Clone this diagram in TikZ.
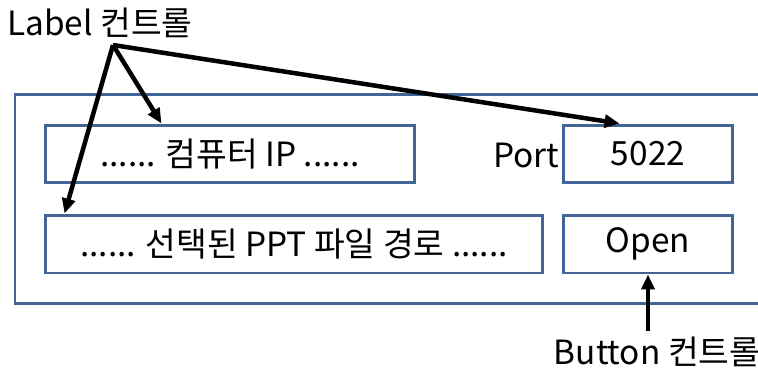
\documentclass[tikz,border=0pt]{standalone}
\usepackage{fontspec}
\setmainfont{Noto Sans CJK KR}
\usetikzlibrary{arrows.meta}
\definecolor{ctrlblue}{RGB}{65,101,151}

\begin{document}
\begin{tikzpicture}[x=0.02cm,y=-0.02cm,
        every node/.style={font=\fontsize{19}{22}\selectfont},
        ctrl/.style={rectangle,draw=ctrlblue,line width=0.06cm,inner sep=0pt,
          minimum height=1.16cm},
        frame/.style={draw=ctrlblue,line width=0.06cm},
        arrow/.style={-{Triangle[length=0.3cm,width=0.26cm]},line width=0.09cm}]
        \useasboundingbox (0,0) rectangle (758,369);
        % outer form, open on the right
        \draw[frame] (758,94) -- (15,94) -- (15,303) -- (758,303);
        % controls
        \node[ctrl,minimum width=7.4cm] (ipbox) at (230,154) {...... 컴퓨터 IP ......};
        \node (port) at (526,155) {Port};
        \node[ctrl,minimum width=3.4cm] (portbox) at (648,154) {5022};
        \node[ctrl,minimum width=9.96cm] (pathbox) at (294,244) {...... 선택된 PPT 파일 경로 ......};
        \node[ctrl,minimum width=3.4cm] (openbox) at (648,244) {Open};
        % callouts
        \node (lbl) at (100,23) {Label 컨트롤};
        \node (btn) at (657,352) {Button 컨트롤};
        \coordinate (hub) at (113,45);
        \draw[arrow] (hub) -- ([xshift=2.36cm]ipbox.north west);
        \draw[arrow] (hub) -- ([xshift=0.42cm]pathbox.north west);
        \draw[arrow] (hub) -- ([xshift=1.16cm]portbox.north west);
        \draw[arrow] (btn.north -| openbox.south) -- (openbox.south);
      \end{tikzpicture}
\end{document}
